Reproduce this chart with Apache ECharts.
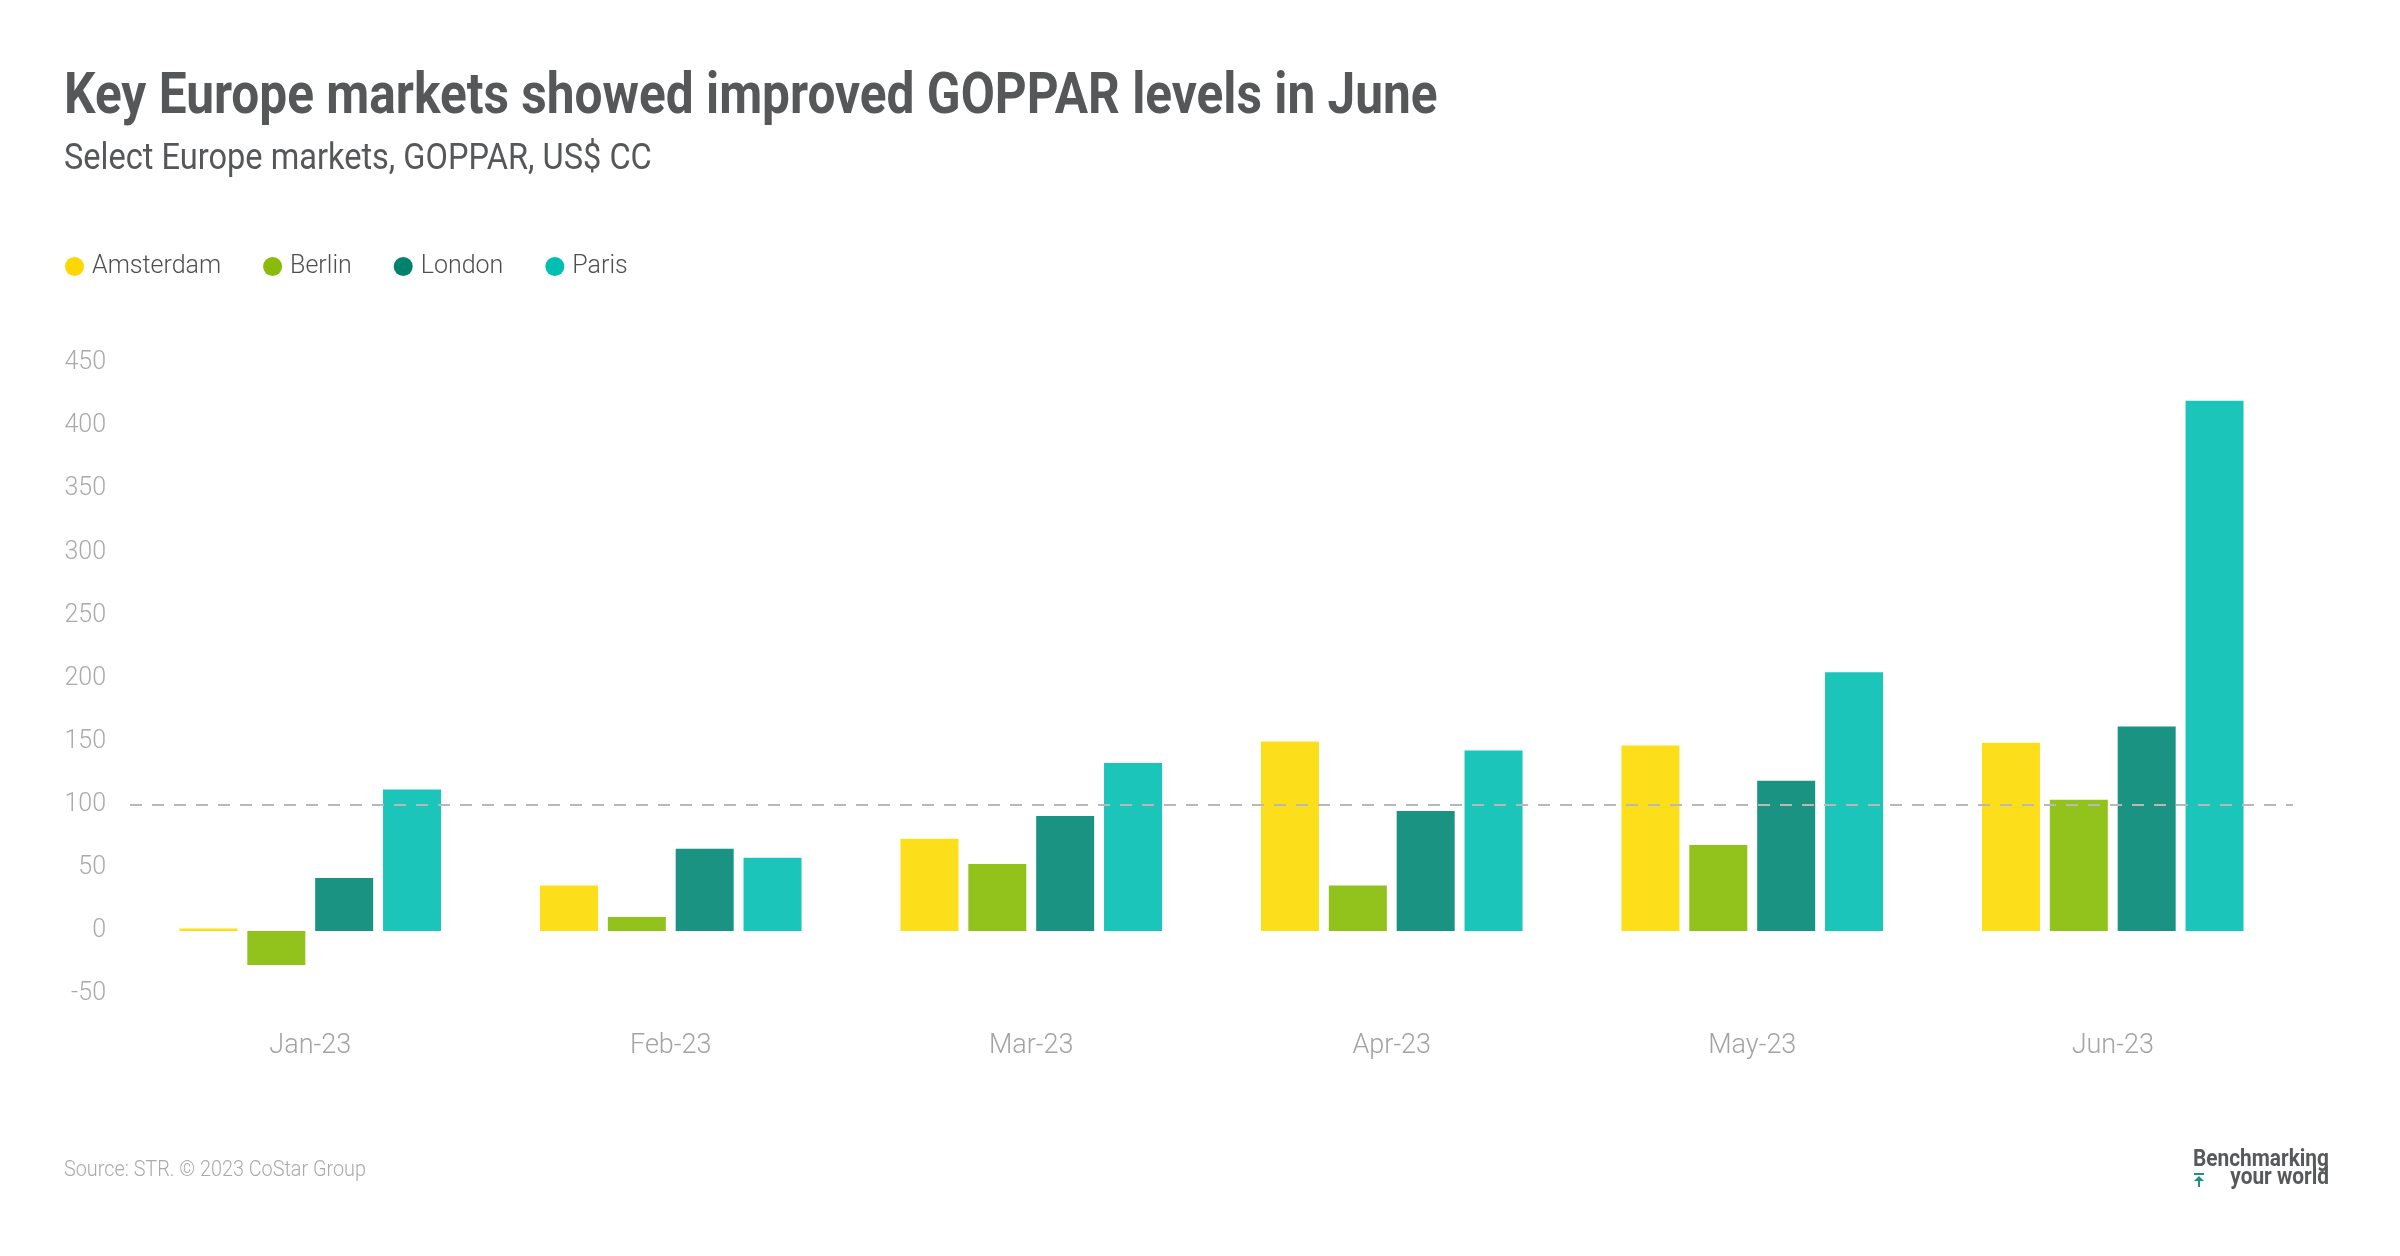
<!DOCTYPE html>
<html>
<head>
<meta charset="utf-8">
<script src="https://cdn.jsdelivr.net/npm/echarts@6/dist/echarts.min.js"></script>
<style>
html,body{margin:0;padding:0;background:#fff;}
#chart{width:2400px;height:1256px;}
</style>
</head>
<body>
<div id="chart"></div>
<script>
const categories = ['Jan-23', 'Feb-23', 'Mar-23', 'Apr-23', 'May-23', 'Jun-23'];
const amsterdam = [2, 36, 73, 150, 147, 149];
const berlin = [-27, 11, 53, 36, 68, 104];
const london = [42, 65, 91, 95, 119, 162];
const paris = [112, 58, 133, 143, 205, 420];
const yTicks = { min: -50, max: 450, interval: 50 };
const referenceLine = 100;

const titleText = 'Key Europe markets showed improved GOPPAR levels in June';
const subtitleText = 'Select Europe markets, GOPPAR, US$ CC';
const sourceText = 'Source: STR. \u00a9 2023 CoStar Group';

const barColors = ['#FDDE1A', '#92C21C', '#1B9382', '#1CC5BA'];
const legendColors = ['#FFD700', '#8BBB0A', '#00826F', '#00BFB2'];
const names = ['Amsterdam', 'Berlin', 'London', 'Paris'];
const seriesData = [amsterdam, berlin, london, paris];

const chart = echarts.init(document.getElementById('chart'), null, { renderer: 'canvas' });

const series = names.map((n, i) => {
  const s = {
    name: n,
    type: 'bar',
    data: seriesData[i],
    barWidth: 58,
    barGap: '17%',
    itemStyle: { color: barColors[i] },
    emphasis: { disabled: true },
    animation: false
  };
  if (i === 3) {
    s.markLine = {
      silent: true,
      symbol: 'none',
      label: { show: false },
      lineStyle: { color: '#b8b8b8', type: [12, 10], width: 2 },
      data: [{ yAxis: referenceLine }],
      animation: false
    };
  }
  return s;
});

const option = {
  backgroundColor: '#ffffff',
  animation: false,
  legend: {
    left: 65,
    top: 254,
    orient: 'horizontal',
    icon: 'circle',
    itemWidth: 19,
    itemHeight: 19,
    itemGap: 42,
    padding: 0,
    textStyle: { fontFamily: 'Roboto', fontWeight: 300, fontSize: 25, color: '#4f4f4f', padding: [0, 0, 0, 3] },
    data: names.map((n, i) => ({ name: n, itemStyle: { color: legendColors[i] } }))
  },
  grid: { left: 130, right: 107, top: 363, bottom: 262, containLabel: false },
  xAxis: {
    type: 'category',
    data: categories,
    axisLine: { show: false },
    axisTick: { show: false },
    axisLabel: { color: '#a3a3a3', fontFamily: 'Roboto', fontWeight: 300, fontSize: 27, margin: 39 },
    splitLine: { show: false }
  },
  yAxis: {
    type: 'value',
    min: yTicks.min,
    max: yTicks.max,
    interval: yTicks.interval,
    axisLine: { show: false },
    axisTick: { show: false },
    splitLine: { show: false },
    axisLabel: { color: '#aaaaaa', fontFamily: 'Roboto', fontWeight: 300, fontSize: 25, margin: 24 }
  },
  series: series,
  graphic: [
    {
      type: 'text', x: 64, y: 99, scaleX: 0.87,
      style: { text: titleText, font: 'bold 57px Roboto', fill: '#555759', textVerticalAlign: 'middle' }
    },
    {
      type: 'text', x: 64, y: 160, scaleX: 0.88,
      style: { text: subtitleText, font: '37px Roboto', fill: '#555759', textVerticalAlign: 'middle' }
    },
    {
      type: 'text', x: 64, y: 1170, scaleX: 0.9,
      style: { text: sourceText, font: '300 22px Roboto', fill: '#aaaaaa', textVerticalAlign: 'middle' }
    },
    {
      type: 'text', x: 2329, y: 1160, scaleX: 0.87,
      style: { text: 'Benchmarking', font: 'bold 24px Roboto', fill: '#58595b', textAlign: 'right', textVerticalAlign: 'middle' }
    },
    {
      type: 'text', x: 2329, y: 1178, scaleX: 0.87,
      style: { text: 'your world', font: 'bold 24px Roboto', fill: '#58595b', textAlign: 'right', textVerticalAlign: 'middle' }
    },
    {
      type: 'group', x: 2199, y: 1173,
      children: [
        { type: 'rect', shape: { x: -5, y: 0, width: 10, height: 2 }, style: { fill: '#1B9382' } },
        { type: 'polygon', shape: { points: [[-5, 8], [0, 3], [5, 8]] }, style: { fill: '#1B9382' } },
        { type: 'rect', shape: { x: -1, y: 5, width: 2, height: 9 }, style: { fill: '#1B9382' } }
      ]
    }
  ]
};
chart.setOption(option);
</script>
</body>
</html>
